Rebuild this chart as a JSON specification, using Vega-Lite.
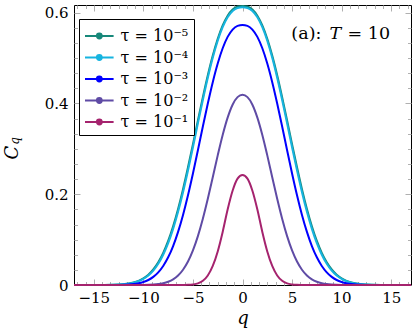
{
  "$schema": "https://vega.github.io/schema/vega-lite/v6.json",
  "width": 337,
  "height": 280,
  "autosize": {"type": "none"},
  "padding": {"left": 74, "top": 5, "right": 1, "bottom": 49},
  "background": "white",
  "config": {
    "view": {"stroke": "black", "strokeWidth": 1},
    "axis": {"grid": false, "domain": false, "labelFont": "DejaVu Serif", "labelFontSize": 15, "labelColor": "black", "titleFont": "DejaVu Serif", "titleFontSize": 18, "titleFontWeight": "normal", "titleFontStyle": "italic", "titleColor": "black", "tickColor": "#b0b0b0", "tickWidth": 1},
    "text": {"font": "DejaVu Serif", "color": "black"}
  },
  "data": {"values": [
    {"q": -17, "e5": 0, "e4": 0, "e3": 0, "e2": 0, "e1": 0},
    {"q": -16, "e5": 0, "e4": 0, "e3": 0, "e2": 0, "e1": 0},
    {"q": -15, "e5": 0, "e4": 0, "e3": 0, "e2": 0, "e1": 0},
    {"q": -14, "e5": 0.0001, "e4": 0.0001, "e3": 0, "e2": 0, "e1": 0},
    {"q": -13, "e5": 0.0005, "e4": 0.0004, "e3": 0.0001, "e2": 0, "e1": 0},
    {"q": -12, "e5": 0.0018, "e4": 0.0015, "e3": 0.0006, "e2": 0, "e1": 0},
    {"q": -11.5, "e5": 0.0032, "e4": 0.0028, "e3": 0.0011, "e2": 0, "e1": 0},
    {"q": -11, "e5": 0.0055, "e4": 0.0048, "e3": 0.0021, "e2": 0, "e1": 0},
    {"q": -10.5, "e5": 0.0091, "e4": 0.0082, "e3": 0.0038, "e2": 0.0001, "e1": 0},
    {"q": -10, "e5": 0.0147, "e4": 0.0133, "e3": 0.0066, "e2": 0.0002, "e1": 0},
    {"q": -9.5, "e5": 0.0228, "e4": 0.0209, "e3": 0.011, "e2": 0.0005, "e1": 0},
    {"q": -9, "e5": 0.0343, "e4": 0.0317, "e3": 0.0179, "e2": 0.001, "e1": 0},
    {"q": -8.5, "e5": 0.0501, "e4": 0.0467, "e3": 0.0279, "e2": 0.002, "e1": 0},
    {"q": -8, "e5": 0.0708, "e4": 0.0667, "e3": 0.042, "e2": 0.0039, "e1": 0},
    {"q": -7.5, "e5": 0.0971, "e4": 0.0922, "e3": 0.061, "e2": 0.0072, "e1": 0},
    {"q": -7, "e5": 0.1294, "e4": 0.1237, "e3": 0.0859, "e2": 0.0125, "e1": 0},
    {"q": -6.5, "e5": 0.1676, "e4": 0.1613, "e3": 0.1171, "e2": 0.021, "e1": 0},
    {"q": -6, "e5": 0.2113, "e4": 0.2045, "e3": 0.1545, "e2": 0.0337, "e1": 0.0001},
    {"q": -5.5, "e5": 0.2594, "e4": 0.2525, "e3": 0.1978, "e2": 0.0519, "e1": 0.0003},
    {"q": -5, "e5": 0.3105, "e4": 0.3036, "e3": 0.2458, "e2": 0.0764, "e1": 0.0012},
    {"q": -4.5, "e5": 0.3627, "e4": 0.3561, "e3": 0.297, "e2": 0.1078, "e1": 0.0035},
    {"q": -4, "e5": 0.414, "e4": 0.4078, "e3": 0.3492, "e2": 0.1461, "e1": 0.0093},
    {"q": -3.5, "e5": 0.4624, "e4": 0.4567, "e3": 0.4, "e2": 0.19, "e1": 0.021},
    {"q": -3, "e5": 0.5058, "e4": 0.5008, "e3": 0.447, "e2": 0.2375, "e1": 0.042},
    {"q": -2.5, "e5": 0.5427, "e4": 0.5383, "e3": 0.4881, "e2": 0.2856, "e1": 0.074},
    {"q": -2, "e5": 0.572, "e4": 0.5682, "e3": 0.5217, "e2": 0.3305, "e1": 0.117},
    {"q": -1.5, "e5": 0.5934, "e4": 0.5899, "e3": 0.5467, "e2": 0.3687, "e1": 0.1664},
    {"q": -1, "e5": 0.6069, "e4": 0.6037, "e3": 0.5629, "e2": 0.3972, "e1": 0.2078},
    {"q": -0.5, "e5": 0.6135, "e4": 0.6105, "e3": 0.5711, "e2": 0.414, "e1": 0.2345},
    {"q": 0, "e5": 0.615, "e4": 0.612, "e3": 0.573, "e2": 0.419, "e1": 0.2425},
    {"q": 0.5, "e5": 0.6135, "e4": 0.6105, "e3": 0.5711, "e2": 0.414, "e1": 0.2345},
    {"q": 1, "e5": 0.6069, "e4": 0.6037, "e3": 0.5629, "e2": 0.3972, "e1": 0.2078},
    {"q": 1.5, "e5": 0.5934, "e4": 0.5899, "e3": 0.5467, "e2": 0.3687, "e1": 0.1664},
    {"q": 2, "e5": 0.572, "e4": 0.5682, "e3": 0.5217, "e2": 0.3305, "e1": 0.117},
    {"q": 2.5, "e5": 0.5427, "e4": 0.5383, "e3": 0.4881, "e2": 0.2856, "e1": 0.074},
    {"q": 3, "e5": 0.5058, "e4": 0.5008, "e3": 0.447, "e2": 0.2375, "e1": 0.042},
    {"q": 3.5, "e5": 0.4624, "e4": 0.4567, "e3": 0.4, "e2": 0.19, "e1": 0.021},
    {"q": 4, "e5": 0.414, "e4": 0.4078, "e3": 0.3492, "e2": 0.1461, "e1": 0.0093},
    {"q": 4.5, "e5": 0.3627, "e4": 0.3561, "e3": 0.297, "e2": 0.1078, "e1": 0.0035},
    {"q": 5, "e5": 0.3105, "e4": 0.3036, "e3": 0.2458, "e2": 0.0764, "e1": 0.0012},
    {"q": 5.5, "e5": 0.2594, "e4": 0.2525, "e3": 0.1978, "e2": 0.0519, "e1": 0.0003},
    {"q": 6, "e5": 0.2113, "e4": 0.2045, "e3": 0.1545, "e2": 0.0337, "e1": 0.0001},
    {"q": 6.5, "e5": 0.1676, "e4": 0.1613, "e3": 0.1171, "e2": 0.021, "e1": 0},
    {"q": 7, "e5": 0.1294, "e4": 0.1237, "e3": 0.0859, "e2": 0.0125, "e1": 0},
    {"q": 7.5, "e5": 0.0971, "e4": 0.0922, "e3": 0.061, "e2": 0.0072, "e1": 0},
    {"q": 8, "e5": 0.0708, "e4": 0.0667, "e3": 0.042, "e2": 0.0039, "e1": 0},
    {"q": 8.5, "e5": 0.0501, "e4": 0.0467, "e3": 0.0279, "e2": 0.002, "e1": 0},
    {"q": 9, "e5": 0.0343, "e4": 0.0317, "e3": 0.0179, "e2": 0.001, "e1": 0},
    {"q": 9.5, "e5": 0.0228, "e4": 0.0209, "e3": 0.011, "e2": 0.0005, "e1": 0},
    {"q": 10, "e5": 0.0147, "e4": 0.0133, "e3": 0.0066, "e2": 0.0002, "e1": 0},
    {"q": 10.5, "e5": 0.0091, "e4": 0.0082, "e3": 0.0038, "e2": 0.0001, "e1": 0},
    {"q": 11, "e5": 0.0055, "e4": 0.0048, "e3": 0.0021, "e2": 0, "e1": 0},
    {"q": 11.5, "e5": 0.0032, "e4": 0.0028, "e3": 0.0011, "e2": 0, "e1": 0},
    {"q": 12, "e5": 0.0018, "e4": 0.0015, "e3": 0.0006, "e2": 0, "e1": 0},
    {"q": 13, "e5": 0.0005, "e4": 0.0004, "e3": 0.0001, "e2": 0, "e1": 0},
    {"q": 14, "e5": 0.0001, "e4": 0.0001, "e3": 0, "e2": 0, "e1": 0},
    {"q": 15, "e5": 0, "e4": 0, "e3": 0, "e2": 0, "e1": 0},
    {"q": 16, "e5": 0, "e4": 0, "e3": 0, "e2": 0, "e1": 0},
    {"q": 17, "e5": 0, "e4": 0, "e3": 0, "e2": 0, "e1": 0}
  ]},
  "transform": [{"fold": ["e5", "e4", "e3", "e2", "e1"], "as": ["tau", "C"]}],
  "layer": [
    {
      "mark": {"type": "line", "strokeWidth": 2, "interpolate": "monotone"},
      "encoding": {
        "x": {"field": "q", "type": "quantitative", "scale": {"domain": [-17, 17], "nice": false, "zero": false},
          "axis": {"orient": "bottom", "values": [-15, -10, -5, 0, 5, 10, 15], "format": "~g", "ticks": false, "labelPadding": 5, "title": "q", "titlePadding": 4}},
        "y": {"field": "C", "type": "quantitative", "scale": {"domain": [0, 0.617], "nice": false, "zero": false},
          "axis": {"orient": "left", "values": [0, 0.2, 0.4, 0.6], "format": "~g", "ticks": false, "labelPadding": 6, "title": "C", "titleX": -62, "titleY": 147, "titleBaseline": "middle", "titleAlign": "center", "titleAngle": 270}},
        "color": {"field": "tau", "type": "nominal",
          "scale": {"domain": ["e5", "e4", "e3", "e2", "e1"], "range": ["#17887a", "#16b4e0", "#0000ff", "#5f4ba5", "#a5236e"]},
          "legend": {"orient": "none", "legendX": 5, "legendY": 14, "title": null, "padding": 5, "rowPadding": 1.5,
            "strokeColor": "black", "fillColor": "white",
            "symbolType": "M-1,0L1.6,0M0.52,0A0.22,0.22,0,1,1,0.08,0A0.22,0.22,0,1,1,0.52,0Z",
            "symbolSize": 484, "symbolStrokeWidth": 2,
            "labelFont": "DejaVu Serif", "labelFontSize": 16, "labelOffset": 12.6, "labelColor": "black",
            "labelExpr": "{'e5':'τ = 10⁻⁵','e4':'τ = 10⁻⁴','e3':'τ = 10⁻³','e2':'τ = 10⁻²','e1':'τ = 10⁻¹'}[datum.label] + '\u00a0\u00a0'",
            "encode": {"symbols": {"update": {"fill": {"scale": "color", "field": "value"}, "fillOpacity": {"value": 1}}}}}}
      }
    },
    {
      "mark": {"type": "point", "opacity": 0},
      "encoding": {
        "x": {"field": "q", "type": "quantitative", "scale": {"domain": [-17, 17], "nice": false, "zero": false},
          "axis": {"orient": "bottom", "values": [-15, -10, -5, 0, 5, 10, 15], "labels": false, "ticks": true, "tickSize": -6, "title": null}},
        "y": {"field": "C", "type": "quantitative", "scale": {"domain": [0, 0.617], "nice": false, "zero": false},
          "axis": {"orient": "left", "values": [0, 0.2, 0.4, 0.6], "labels": false, "ticks": true, "tickSize": -6, "title": null}}
      }
    },
    {
      "mark": {"type": "point", "opacity": 0},
      "encoding": {
        "x": {"field": "q", "type": "quantitative", "scale": {"domain": [-17, 17], "nice": false, "zero": false},
          "axis": {"orient": "bottom", "values": [-16.667, -15.833, -14.167, -13.333, -12.5, -11.667, -10.833, -9.167, -8.333, -7.5, -6.667, -5.833, -4.167, -3.333, -2.5, -1.667, -0.833, 0.833, 1.667, 2.5, 3.333, 4.167, 5.833, 6.667, 7.5, 8.333, 9.167, 10.833, 11.667, 12.5, 13.333, 14.167, 15.833, 16.667], "labels": false, "ticks": true, "tickSize": -3.5, "title": null}},
        "y": {"field": "C", "type": "quantitative", "scale": {"domain": [0, 0.617], "nice": false, "zero": false},
          "axis": {"orient": "left", "values": [0.0333, 0.0667, 0.1, 0.1333, 0.1667, 0.2333, 0.2667, 0.3, 0.3333, 0.3667, 0.4333, 0.4667, 0.5, 0.5333, 0.5667], "labels": false, "ticks": true, "tickSize": -3.5, "title": null}}
      }
    },
    {
      "mark": {"type": "point", "opacity": 0},
      "encoding": {
        "x": {"field": "q", "type": "quantitative", "scale": {"domain": [-17, 17], "nice": false, "zero": false},
          "axis": {"orient": "top", "values": [-15, -10, -5, 0, 5, 10, 15], "labels": false, "ticks": true, "tickSize": -6, "title": null}},
        "y": {"field": "C", "type": "quantitative", "scale": {"domain": [0, 0.617], "nice": false, "zero": false},
          "axis": {"orient": "right", "values": [0, 0.2, 0.4, 0.6], "labels": false, "ticks": true, "tickSize": -6, "title": null}}
      }
    },
    {
      "mark": {"type": "point", "opacity": 0},
      "encoding": {
        "x": {"field": "q", "type": "quantitative", "scale": {"domain": [-17, 17], "nice": false, "zero": false},
          "axis": {"orient": "top", "values": [-16.667, -15.833, -14.167, -13.333, -12.5, -11.667, -10.833, -9.167, -8.333, -7.5, -6.667, -5.833, -4.167, -3.333, -2.5, -1.667, -0.833, 0.833, 1.667, 2.5, 3.333, 4.167, 5.833, 6.667, 7.5, 8.333, 9.167, 10.833, 11.667, 12.5, 13.333, 14.167, 15.833, 16.667], "labels": false, "ticks": true, "tickSize": -3.5, "title": null}},
        "y": {"field": "C", "type": "quantitative", "scale": {"domain": [0, 0.617], "nice": false, "zero": false},
          "axis": {"orient": "right", "values": [0.0333, 0.0667, 0.1, 0.1333, 0.1667, 0.2333, 0.2667, 0.3, 0.3333, 0.3667, 0.4333, 0.4667, 0.5, 0.5333, 0.5667], "labels": false, "ticks": true, "tickSize": -3.5, "title": null}}
      }
    },
    {
      "data": {"values": [{"label": "(a):"}]},
      "mark": {"type": "text", "align": "left", "baseline": "alphabetic", "fontSize": 17.5},
      "encoding": {
        "x": {"datum": 4.93, "type": "quantitative", "scale": {"domain": [-17, 17], "nice": false, "zero": false}, "axis": null},
        "y": {"datum": 0.5418, "type": "quantitative", "scale": {"domain": [0, 0.617], "nice": false, "zero": false}, "axis": null},
        "text": {"field": "label"}
      }
    },
    {
      "data": {"values": [{"label": "T"}]},
      "mark": {"type": "text", "align": "left", "baseline": "alphabetic", "fontSize": 17.5, "fontStyle": "italic"},
      "encoding": {
        "x": {"datum": 8.79, "type": "quantitative", "scale": {"domain": [-17, 17], "nice": false, "zero": false}, "axis": null},
        "y": {"datum": 0.5418, "type": "quantitative", "scale": {"domain": [0, 0.617], "nice": false, "zero": false}, "axis": null},
        "text": {"field": "label"}
      }
    },
    {
      "data": {"values": [{"label": "= 10"}]},
      "mark": {"type": "text", "align": "left", "baseline": "alphabetic", "fontSize": 17.5},
      "encoding": {
        "x": {"datum": 10.6, "type": "quantitative", "scale": {"domain": [-17, 17], "nice": false, "zero": false}, "axis": null},
        "y": {"datum": 0.5418, "type": "quantitative", "scale": {"domain": [0, 0.617], "nice": false, "zero": false}, "axis": null},
        "text": {"field": "label"}
      }
    },
    {
      "data": {"values": [{"label": "q"}]},
      "mark": {"type": "text", "align": "center", "baseline": "middle", "fontSize": 12, "fontStyle": "italic", "angle": 270},
      "encoding": {
        "x": {"datum": -23.0, "type": "quantitative", "scale": {"domain": [-17, 17], "nice": false, "zero": false}, "axis": null},
        "y": {"datum": 0.3175, "type": "quantitative", "scale": {"domain": [0, 0.617], "nice": false, "zero": false}, "axis": null},
        "text": {"field": "label"}
      }
    }
  ],
  "resolve": {"axis": {"x": "independent", "y": "independent"}}
}
